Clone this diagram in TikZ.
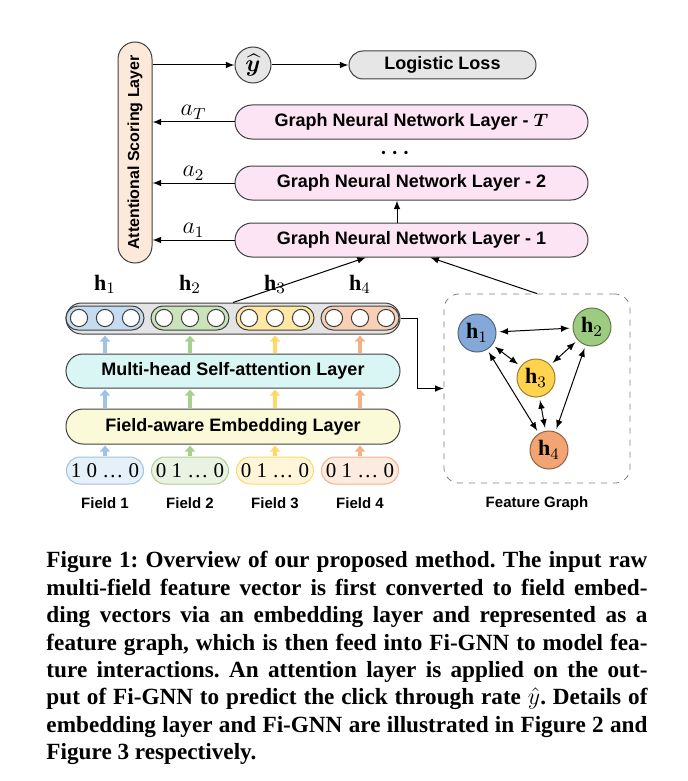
\documentclass[tikz,border=0pt]{standalone}
\usepackage{fontspec}
\setmainfont{Liberation Serif}
\setsansfont{Liberation Sans}
\usepackage{amsmath,bm}
\usepackage{tikz}
\usetikzlibrary{arrows,arrows.meta,shapes,positioning}

\definecolor{attpeach}{HTML}{FCE9DA}
\definecolor{gnnpink}{HTML}{FCE4F4}
\definecolor{lossgray}{HTML}{E6E6E6}
\definecolor{rowgray}{HTML}{E4E4E4}
\definecolor{mhacyan}{HTML}{DAF6F4}
\definecolor{embyellow}{HTML}{FBFAD8}
\definecolor{fblue}{HTML}{9DC3E6}
\definecolor{fgreen}{HTML}{A9D18E}
\definecolor{fyellow}{HTML}{FFD966}
\definecolor{forange}{HTML}{F4B183}
\definecolor{nblue}{HTML}{84A8D8}
\definecolor{ngreen}{HTML}{9DCB80}
\definecolor{nyellow}{HTML}{FFD34E}
\definecolor{norange}{HTML}{F2A472}

\tikzset{
  basic/.style   = {draw=black!75, font=\sffamily\bfseries\fontsize{9}{11}\selectfont,
                    rectangle, inner sep=0pt},
  layer/.style   = {basic, rounded corners=8.5pt, minimum height=17pt},
  gnn/.style     = {layer, fill=gnnpink, minimum width=176.5pt},
  wide/.style    = {layer, minimum width=167pt},
  group/.style   = {basic, rounded corners=6pt, minimum width=39pt, minimum height=12pt},
  cell/.style    = {circle, draw=black!75, fill=white, minimum size=8.6pt, inner sep=0pt},
  field/.style   = {basic, font=\rmfamily\fontsize{10.5}{12}\selectfont, rounded corners=6.75pt,
                    minimum width=38.5pt, minimum height=13.5pt},
  fieldlabel/.style = {font=\sffamily\bfseries\fontsize{7.5}{9}\selectfont},
  feat/.style    = {circle, minimum size=19pt, inner sep=0pt, font=\fontsize{11}{13}\selectfont},
  fat/.style     = {line width=2pt, shorten <=0.5pt, shorten >=0.5pt,
                    -{Triangle[width=5pt,length=3pt]}}
}

% one justified caption line
\newcommand{\figline}[1]{\makebox[300.5pt][s]{#1}}

\begin{document}
\begin{tikzpicture}[x=0.5pt, y=0.5pt, >=latex, line width=0.5pt]
\useasboundingbox (0,0) rectangle (688,-781);

% scoring layer, prediction and loss
\node[layer, fill=attpeach, minimum width=17pt, minimum height=110.5pt,
      font=\sffamily\bfseries\fontsize{8}{10}\selectfont] (att) at (135,-152.5)
      {\rotatebox{90}{Attentional Scoring Layer}};
\node[circle, draw=black!75, fill=lossgray, minimum size=18pt, inner sep=0pt,
      font=\fontsize{13}{15}\selectfont] (yhat) at (253,-65) {$\bm{\widehat{y}}$};
\node[layer, fill=lossgray, minimum width=93.5pt, minimum height=14pt, rounded corners=7pt,
      right=38.5pt of yhat] (loss) {Logistic Loss};

% the GNN layers, stacked
\node[gnn] (gnn1) at (411.5,-240) {Graph Neural Network Layer - 1};
\node[gnn, above=11pt of gnn1] (gnn2) {Graph Neural Network Layer - 2};
\node[gnn, above=13pt of gnn2] (gnnT) {Graph Neural Network Layer - $\bm{T}$};
\node[font=\fontsize{11}{13}\selectfont] (dots) at (397,-153) {$\bm{\cdots}$};

\draw[->] (att.east |- yhat) -- (yhat);
\draw[->] (yhat) -- (loss);
\foreach \g/\a in {gnnT/a_T, gnn2/a_2, gnn1/a_1}
  \draw[->] (\g.west) -- (\g.west -| att.east)
    node[midway, above, inner sep=1pt, font=\fontsize{12}{14}\selectfont] {$\a$};
\draw[->] (gnn1.north -| dots) -- (gnn2.south -| dots);

% embedding part
\node[wide, fill=rowgray, minimum height=15.5pt, rounded corners=7.75pt] (hrow) at (233,-318.5) {};
\node[wide, fill=mhacyan, below=9.5pt of hrow] (mha) {Multi-head Self-attention Layer};
\node[wide, fill=embyellow, minimum height=17.5pt, below=10pt of mha] (emb) {Field-aware Embedding Layer};

\foreach \i/\x/\c/\v in {1/105/fblue/{1\ 0}, 2/190/fgreen/{0\ 1}, 3/275/fyellow/{0\ 1}, 4/360/forange/{0\ 1}} {
  \node[group, fill=\c!60] (g\i) at (\x,-318) {};
  \foreach \j/\d in {a/-13pt, b/0pt, c/13pt}
    \node[cell, xshift=\d] (g\i\j) at (g\i) {};
  \node[above=1pt of hrow.north -| g\i, font=\fontsize{11}{13}\selectfont] (h\i) {$\mathbf{h}_\i$};
  \node[field, fill=\c!25, draw=\c] (f\i) at (\x,-470.5) {\v\ \dots\ 0};
  \node[fieldlabel, below=3pt of f\i] (l\i) {Field \i};
  % coloured arrows up through the layers
  \draw[fat, draw=\c] (f\i) -- (f\i |- emb.south);
  \draw[fat, draw=\c] (f\i |- emb.north) -- (f\i |- mha.south);
  \draw[fat, draw=\c] (f\i |- mha.north) -- (f\i |- hrow.south);
}

% feature graph
\node[draw=black!50, dashed, line width=0.4pt, rounded corners=7.5pt,
      minimum width=93pt, minimum height=94.5pt] (fg) at (537,-388.5) {};
\node[fieldlabel, below=3pt of fg] (fglabel) {Feature Graph};
\node[feat, fill=nblue, draw=nblue!60!black] (n1) at (477,-333) {$\mathbf{h}_1$};
\node[feat, fill=ngreen, draw=ngreen!60!black] (n2) at (592,-327) {$\mathbf{h}_2$};
\node[feat, fill=nyellow, draw=nyellow!60!black] (n3) at (536,-378) {$\mathbf{h}_3$};
\node[feat, fill=norange, draw=norange!60!black] (n4) at (549,-450) {$\mathbf{h}_4$};
\foreach \a/\b in {n1/n2, n1/n3, n2/n3, n1/n4, n3/n4, n2/n4}
  \draw[<->, shorten <=1.5pt, shorten >=1.5pt] (\a) -- (\b);

% into the first GNN layer
\draw[->] (hrow.north) -- (gnn1.201);
\draw[->] (fg.north) -- (gnn1.317);
\draw[->] (hrow.east) -- ++(17,0) |- (fg.west);

% caption
\node[anchor=north west, inner sep=0pt, align=left,
      font=\bfseries\frenchspacing\fontsize{11.6}{13.7}\selectfont] (caption) at (46,-551) {%
\figline{Figure 1: Overview of our proposed method. The input raw}\\
\figline{multi-field feature vector is first converted to field embed-}\\
\figline{ding vectors via an embedding layer and represented as a}\\
\figline{feature graph, which is then feed into Fi-GNN to model fea-}\\
\figline{ture interactions. An attention layer is applied on the out-}\\
\figline{put of Fi-GNN to predict the click through rate $\hat{y}$. Details of}\\
\figline{embedding layer and Fi-GNN are illustrated in Figure 2 and}\\
Figure 3 respectively.};
\end{tikzpicture}
\end{document}
